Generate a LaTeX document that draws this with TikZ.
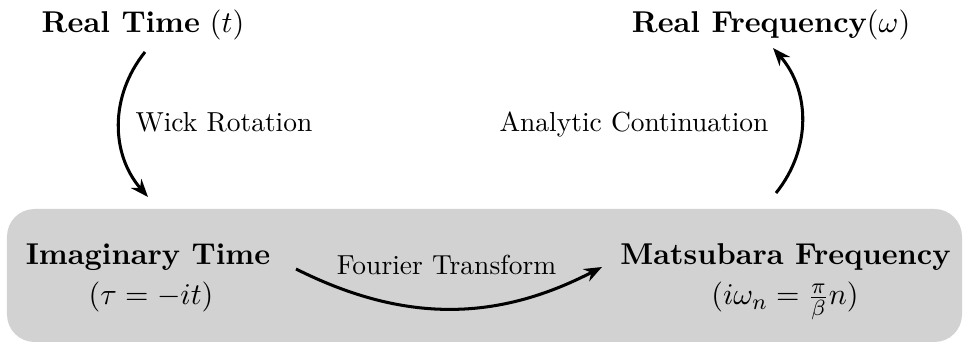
\documentclass[tikz,border=0pt]{standalone}
\usetikzlibrary{arrows.meta}
\begin{document}
\begin{tikzpicture}[x=0.363636pt,y=0.363636pt,
  bigtxt/.style={font=\fontsize{10.95}{13.6}\selectfont, inner sep=0pt, anchor=base},
  lbl/.style={font=\fontsize{10}{12}\selectfont, inner sep=0pt},
  conn/.style={line width=1.1pt, -{Stealth[length=6.5pt,width=5pt]}},
  panel/.style={fill=gray!35, rounded corners=10pt, inner sep=0pt,
    minimum width=347.27pt, minimum height=48.36pt}]
\useasboundingbox (0,0) rectangle (964,344);
% background panel
\node[panel] (bg) at (484.5,68.5) {};
% text nodes
\node[bigtxt] (rt) at (143,311) {\textbf{Real Time} $(t)$};
\node[bigtxt] (rf) at (771,311) {\textbf{Real Frequency}$(\omega)$};
\node[bigtxt] (it) at (148,79) {\textbf{Imaginary Time}};
\node[bigtxt] (itf) at (151,39) {$(\tau = -it)$};
\node[bigtxt] (mf) at (785.5,79) {\textbf{Matsubara Frequency}};
\node[bigtxt] (mff) at (785,39) {$(i\omega_n = \frac{\pi}{\beta}n)$};
% connector end points
\coordinate (w1) at (145,292);
\coordinate (w2) at (148,147);
\coordinate (a1) at (776,151);
\coordinate (a2) at (773,296);
\coordinate (f1) at (296,75);
\coordinate (f2) at (602,77);
% connectors
\draw[conn] (w1) to[bend right=40] (w2);
\draw[conn] (a1) to[bend right=40] (a2);
\draw[conn] (f1) to[bend right=27] (f2);
% labels
\node[lbl, anchor=base west] (wl) at (135,212) {Wick Rotation};
\node[lbl, anchor=base east] (al) at (769,212) {Analytic Continuation};
\node[lbl, anchor=base] (fl) at (446.5,69) {Fourier Transform};
\end{tikzpicture}
\end{document}
